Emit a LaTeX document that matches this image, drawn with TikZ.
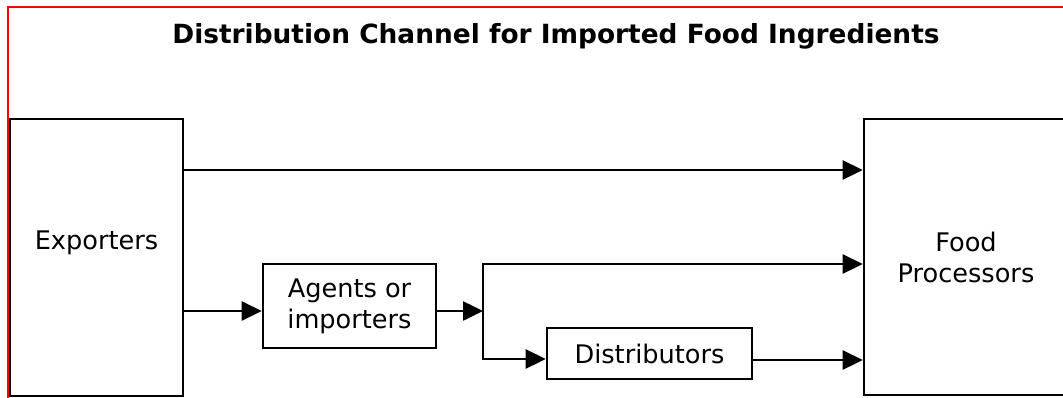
\documentclass[tikz,border=0pt]{standalone}
\usepackage{fontspec}
\setmainfont{DejaVu Sans}
\usetikzlibrary{arrows.meta, positioning, calc}

\begin{document}
\begin{tikzpicture}[
  x=1pt, y=-1pt,
  txt/.style = {font=\fontsize{25.6}{31}\selectfont, align=center, inner sep=0pt},
  box/.style = {txt, draw, line width=2.6pt},
  arr/.style = {-{Triangle[length=20pt, width=19pt]}, line width=2.6pt},
  lin/.style = {line width=2.6pt, line cap=rect},
]
\useasboundingbox (0,0) rectangle (1063,397);

% ── Frame ────────────────────────────────────────────────────────────────────
\draw[red, line width=2.4pt] (8,400) -- (8,7) -- (1066,7);

% ── Title ────────────────────────────────────────────────────────────────────
\node[font=\bfseries\fontsize{26.4}{32}\selectfont, anchor=base] (title) at (556,43)
      {Distribution Channel for Imported Food Ingredients};

% ── Boxes ────────────────────────────────────────────────────────────────────
\node[box, minimum width=173pt, minimum height=277pt] (exp) at (96.5,257.5) {};
\node[txt] (exptext) at (96.5,243) {Exporters};

\node[box, minimum width=204pt, minimum height=276pt] (fp) at (966,257)
      {Food\\Processors};

\node[box, minimum width=173pt, minimum height=84pt] (agt) at (349.5,306)
      {Agents or\\importers};

\node[box, minimum width=205pt, minimum height=51pt] (dist) at (649.5,353.5)
      {Distributors};

% ── Branch point after the agents ────────────────────────────────────────────
\coordinate (split) at (483,311);
\coordinate (hi)    at (483,264);
\coordinate (lo)    at (483,359);

% ── Connectors ───────────────────────────────────────────────────────────────
\draw[arr] (exp.east |- 0,170)  -- (fp.west |- 0,170);
\draw[arr] (exp.east |- split)  -- (agt.west |- split);
\draw[arr] (agt.east |- split)  -- (split);
\draw[lin] (hi) -- (lo);
\draw[arr] (hi) -- (fp.west |- hi);
\draw[arr] (lo) -- (dist.west |- lo);
\draw[arr] (dist.east |- 0,360) -- (fp.west |- 0,360);

\end{tikzpicture}
\end{document}
